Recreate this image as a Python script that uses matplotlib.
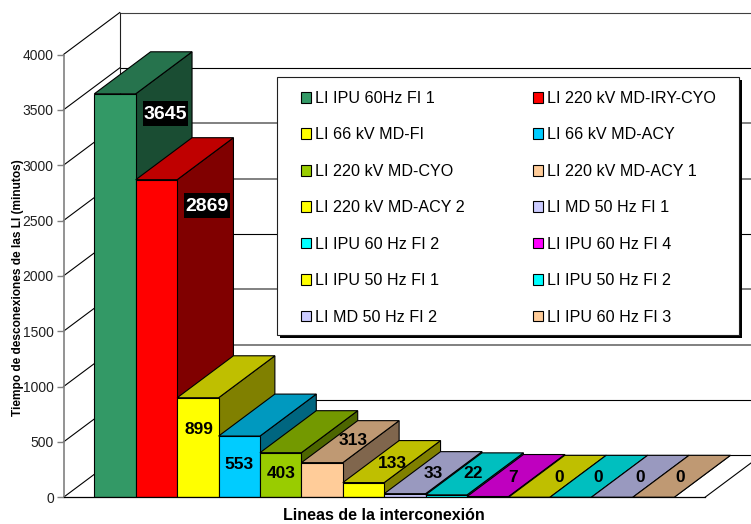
import matplotlib
matplotlib.use("Agg")
import matplotlib.pyplot as plt
from matplotlib.colors import to_rgb
from matplotlib.patches import Polygon, Rectangle
from matplotlib.transforms import IdentityTransform

plt.rcParams['font.family'] = ['Liberation Sans', 'DejaVu Sans']

lines = ['LI IPU 60Hz FI 1', 'LI 220 kV MD-IRY-CYO', 'LI 66 kV MD-FI', 'LI 66 kV MD-ACY',
         'LI 220 kV MD-CYO', 'LI 220 kV MD-ACY 1', 'LI 220 kV MD-ACY 2', 'LI MD 50 Hz FI 1',
         'LI IPU 60 Hz FI 2', 'LI IPU 60 Hz FI 4', 'LI IPU 50 Hz FI 1', 'LI IPU 50 Hz FI 2',
         'LI MD 50 Hz FI 2', 'LI IPU 60 Hz FI 3']
minutes = [3645, 2869, 899, 553, 403, 313, 133, 33, 22, 7, 0, 0, 0, 0]
y_ticks = [0, 500, 1000, 1500, 2000, 2500, 3000, 3500, 4000]

colors = ['#339966', '#FF0000', '#FFFF00', '#00CCFF', '#99CC00', '#FFCC99', '#FFFF00',
          '#CCCCFF', '#00FFFF', '#FF00FF', '#FFFF00', '#00FFFF', '#CCCCFF', '#FFCC99']
# back wall lines come out black or grey in the original, depends on the pixel row
grid_colors = ['#000000', '#000000', '#808080', '#808080', '#000000', '#808080', '#808080', '#000000', '#404040']
grid_widths = [0.8, 0.8, 1.4, 1.4, 0.8, 1.4, 1.4, 0.8, 0.8]
# label offset from the top centre of each bar, pixels
label_offsets = [(50.6, -21), (50.6, -27), (1.2, -32), (0, -28), (0, -21), (31, 22.6), (29, 18.6),
                 (28, 20.6), (27, 21), (25.5, 19.5), (30, 20), (28, 20), (28, 20), (27, 20)]

W, H = 751, 524
fig = plt.figure(figsize=(W / 100, H / 100), dpi=100)
ax = fig.add_axes([63.5 / W, (H - 497.3) / H, 641.5 / W, 442.8 / H])
ax.set_xlim(-1.244, 14.244)
ax.set_ylim(0, 4000)
x0, x1 = ax.get_xlim()

# depth of the fake 3D box, in data units
dx = 56.3 / (641.5 / (x1 - x0))
dy = 42 / (442.8 / 4000)


def shade(color, factor):
    return tuple(c * factor for c in to_rgb(color))


# walls and floor
for v, c, lw in zip(y_ticks, grid_colors, grid_widths):
    ax.plot([x0 + dx, x1 + dx], [v + dy, v + dy], color=c, lw=lw, clip_on=False, zorder=1)
    ax.plot([x0, x0 + dx], [v, v + dy], color='black', lw=0.8, clip_on=False, zorder=1)
ax.plot([x0 + dx, x0 + dx], [dy, 4000 + dy], color='#202020', lw=0.8, clip_on=False, zorder=1)
ax.plot([x1, x1 + dx], [0, dy], color='black', lw=0.8, clip_on=False, zorder=1)

handles = []
for i, (v, c) in enumerate(zip(minutes, colors)):
    z = 2 + i
    left, right = i - 0.5, i + 0.5
    top = Polygon([(left, v), (left + dx, v + dy), (right + dx, v + dy), (right, v)],
                  fc=shade(c, 0.75), ec='black', lw=0.8, zorder=z, clip_on=False)
    side = Polygon([(right, 0), (right + dx, dy), (right + dx, v + dy), (right, v)],
                   fc=shade(c, 0.5), ec='black', lw=0.8, zorder=z, clip_on=False)
    ax.add_patch(side)
    ax.add_patch(top)
    bar = ax.bar(i, v, width=1, color=c, edgecolor='black', lw=0.8, zorder=z, label=lines[i])
    handles.append(bar[0])

renderer = fig.canvas.get_renderer()
for i, (v, off) in enumerate(zip(minutes, label_offsets)):
    big = i < 2
    t = ax.annotate(str(v), xy=(i, v), xytext=off, textcoords='offset pixels',
                    ha='center', va='center', fontsize=14 if big else 12.5, fontweight='bold',
                    color='white' if big else 'black', zorder=30)
    if big:
        # black box behind the two big labels, taller than bbox= would give
        bb = t.get_window_extent(renderer)
        ax.add_patch(Rectangle((bb.x0 - 1, (bb.y0 + bb.y1) / 2 + 1.5 - 12.5), bb.width + 2, 25,
                               fc='black', ec='none', transform=IdentityTransform(),
                               clip_on=False, zorder=29))

for side_name in ['top', 'right']:
    ax.spines[side_name].set_visible(False)
ax.spines['left'].set_color('#808080')
ax.spines['left'].set_linewidth(1.2)
ax.spines['left'].set_zorder(20)
ax.spines['bottom'].set_color('black')
ax.spines['bottom'].set_linewidth(0.9)
ax.spines['bottom'].set_zorder(20)
ax.patch.set_visible(False)
ax.set_xticks([])
ax.set_yticks(y_ticks)
ax.tick_params(axis='y', length=5, width=1, color='#808080', labelsize=10, labelcolor='#202020', pad=2)

ax.set_ylabel('Tiempo de desconexiones de las LI (minutos)', fontsize=8.6, fontweight='bold', va='center')
ax.yaxis.set_label_coords(-0.071, 0.473)
ax.set_xlabel('Lineas de la interconexión', fontsize=11.5, fontweight='bold', va='center')
ax.xaxis.set_label_coords(0.4996, -0.042)

# frame and shadow by hand, legend padding is the same on all sides and the original isn't
frame_kw = dict(transform=fig.transFigure, clip_on=False)
ax.add_patch(Rectangle(((277.3 + 3) / W, (H - 335 - 3) / H), 461.7 / W, 257.7 / H,
                       fc='black', ec='none', zorder=23, **frame_kw))
ax.add_patch(Rectangle((277.3 / W, (H - 335) / H), 461.7 / W, 257.7 / H,
                       fc='white', ec='#202020', lw=0.8, zorder=24, **frame_kw))

# legend is filled row by row in the original, matplotlib fills by column
order = list(range(0, 14, 2)) + list(range(1, 14, 2))
leg = ax.legend([handles[i] for i in order], [lines[i] for i in order], ncols=2,
                loc='upper left', bbox_to_anchor=(301 / W, (H - 91) / H),
                bbox_transform=fig.transFigure, borderaxespad=0, borderpad=0,
                fontsize=11.6, frameon=False,
                handlelength=0.65, handleheight=0.65, handletextpad=0.23,
                labelspacing=1.33, columnspacing=4.2)
leg.set_zorder(25)

fig.savefig('out.png', dpi=100)
